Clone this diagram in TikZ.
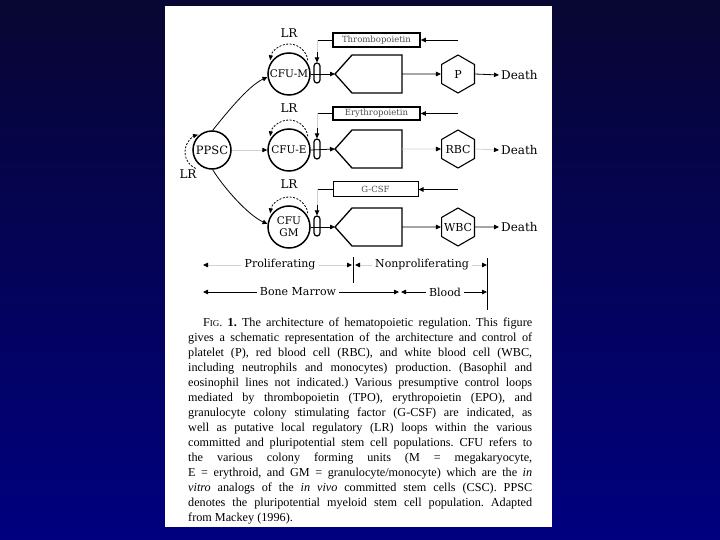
\documentclass[tikz,border=0pt]{standalone}
\usepackage{fontspec}
\setmainfont{Liberation Serif}
\newfontfamily\diagfont{DejaVu Serif}
\usetikzlibrary{shapes.geometric,arrows.meta,calc}
\definecolor{bgtop}{RGB}{8,6,50}
\definecolor{bgbot}{RGB}{0,0,128}
\frenchspacing
\begin{document}
\begin{tikzpicture}[x=1pt,y=-1pt,
  tip/.tip={Triangle[length=5pt,width=4.5pt]},
  flow/.style={line width=0.8pt,-tip},
  faintarr/.style={draw=black!18,line width=0.8pt,-{Triangle[length=5pt,width=4.5pt,color=black]}},
  faint/.style={draw=black!18,line width=0.8pt},
  cell/.style={draw,circle,line width=1.5pt,minimum size=42pt,inner sep=0pt,font=\diagfont\fontsize{10.5}{11}\selectfont},
  hexa/.style={draw,line width=1.1pt,regular polygon,regular polygon sides=6,shape border rotate=30,minimum size=38pt,inner sep=0pt,font=\diagfont\fontsize{11}{12}\selectfont},
  hbox/.style={draw,line width=1.6pt,minimum width=87pt,minimum height=14pt,inner sep=0pt,text=black!70,font=\diagfont\fontsize{8.5}{9}\selectfont},
  capsule/.style={draw,line width=1.2pt,minimum width=6pt,minimum height=20pt,inner sep=0pt,rounded corners=3pt},
  penta/.style={line width=1.3pt,line join=miter},
  lrloop/.style={dash pattern=on 2pt off 1.5pt,line width=0.8pt,-{Triangle[length=5pt,width=4pt]}},
  lbl/.style={font=\diagfont\fontsize{12}{13}\selectfont,inner sep=1pt},
  dim/.style={font=\diagfont\fontsize{11}{12}\selectfont,inner sep=3pt}
]
\useasboundingbox (0,0) rectangle (720,540);
\shade[top color=bgtop,bottom color=bgbot] (0,0) rectangle (720,540);
\fill[white] (165,6) rectangle (552,527);

% stem cells
\node[cell,minimum size=38pt,font=\diagfont\fontsize{11.5}{12}\selectfont] (ppsc) at (212,150) {PPSC};
\node[cell] (cfum) at (289,74) {CFU-M};
\node[cell] (cfue) at (289,150) {CFU-E};
\node[cell,align=center,font=\diagfont\fontsize{10.5}{12}\selectfont] (cfugm) at (289,227) {CFU\\GM};

% LR labels
\node[lbl] (lr1) at (289,33) {LR};
\node[lbl] (lr2) at (289,108) {LR};
\node[lbl] (lr3) at (289,184) {LR};
\node[lbl] (lr0) at (188,174) {LR};

% LR loops
\draw[lrloop] ($(cfum.center)+(0,-11)+(-8:19)$) arc[start angle=-8,end angle=-172,radius=19];
\draw[lrloop] ($(cfue.center)+(0,-11)+(-8:19)$) arc[start angle=-8,end angle=-172,radius=19];
\draw[lrloop] ($(cfugm.center)+(0,-11)+(-8:19)$) arc[start angle=-8,end angle=-172,radius=19];
\draw[lrloop] ($(ppsc.center)+(-9,2)+(114:18)$) arc[start angle=114,end angle=254,radius=18];

% PPSC to CFUs
\draw[flow] (ppsc.88) .. controls (225,115) and (248,86) .. (cfum.188);
\draw[faintarr] (ppsc.east) -- (cfue.west);
\draw[flow] (ppsc.272) .. controls (224,188) and (248,215) .. (cfugm.172);

% capsules
\node[capsule] (cap1) at (317,73) {};
\node[capsule] (cap2) at (317,149) {};
\node[capsule] (cap3) at (317,226) {};

% amplifier (pentagon) shapes
\coordinate (tip1) at (335,74);
\coordinate (tip2) at (335,149);
\coordinate (tip3) at (335,227);
\foreach \t in {1,2,3}{
  \draw[penta] (tip\t) -- ++(17,-19) -- ++(50,0) -- ++(0,38) -- ++(-50,0) -- cycle;
  \coordinate (pr\t) at ($(tip\t)+(67,0)$);
}

% circle -> pentagon
\draw[flow] (cfum.east) -- (tip1);
\draw[flow] (cfue.east) -- (tip2);
\draw[flow] (cfugm.east) -- (tip3);

% mature cells
\node[hexa] (hexp) at (458,74) {P};
\node[hexa] (hexr) at (458,149) {\makebox[0pt]{RBC}};
\node[hexa] (hexw) at (458,227) {\makebox[0pt]{WBC}};

\draw[flow] (pr1) -- (hexp.west);
\draw[faintarr] (pr2) -- (hexr.west);
\draw[flow] (pr3) -- (hexw.west);

\node[lbl,anchor=west,inner sep=2pt] (d1) at (499,75) {Death};
\node[lbl,anchor=west,inner sep=2pt] (d2) at (499,150) {Death};
\node[lbl,anchor=west,inner sep=2pt] (d3) at (499,227) {Death};
\draw[flow] (hexp.east) -- (d1.west);
\draw[faintarr] (hexr.east) -- (d2.west);
\draw[flow] (hexw.east) -- (d3.west);

% control boxes
\node[hbox] (thr) at (376.5,40) {Thrombopoietin};
\node[hbox,minimum height=13pt] (ery) at (376.5,113.5) {Erythropoietin};
\node[hbox,line width=1pt,minimum height=15pt,minimum width=85pt] (gcsf) at (375.5,189.5) {G-CSF};

\coordinate (in1) at (458,40);
\coordinate (in2) at (458,113.5);
\coordinate (in3) at (458,189.5);
\draw[flow] (in1) -- (thr.east);
\draw[flow] (in2) -- (ery.east);
\draw[flow] (in3) -- (gcsf.east);

\coordinate (c1) at (317,40);
\coordinate (c2) at (317,113.5);
\coordinate (c3) at (317,189.5);
\draw[line width=0.8pt] (thr.west) -- (c1);
\draw[line width=0.8pt] (ery.west) -- (c2);
\draw[line width=0.8pt] (gcsf.west) -- (c3);
\coordinate (s1) at ($(cap1.north)+(0,-10)$);
\coordinate (s2) at ($(cap2.north)+(0,-10)$);
\coordinate (s3) at ($(cap3.north)+(0,-10)$);
\draw[faint] (c1) -- (s1);
\draw[faint] (c2) -- (s2);
\draw[faint] (c3) -- (s3);
\draw[flow] (s1) -- (cap1.north);
\draw[flow] (s2) -- (cap2.north);
\draw[flow] (s3) -- (cap3.north);

% bottom scales
\node[dim] (prol) at (280,265) {Proliferating};
\node[dim] (nonp) at (422,265) {Nonproliferating};
\node[dim] (bone) at (298,292) {Bone Marrow};
\node[dim] (blood) at (445,292) {Blood};
\coordinate (a1) at (203,265);
\coordinate (a2) at (352,265);
\coordinate (a3) at (355,265);
\coordinate (a4) at (487,265);
\coordinate (b1) at (203,292);
\coordinate (b2) at (399,292);
\coordinate (b3) at (401,292);
\coordinate (b4) at (487,292);
\draw[faintarr] (prol.west) -- (a1);
\draw[faintarr] (prol.east) -- (a2);
\draw[faintarr] (nonp.west) -- (a3);
\draw[faintarr] (nonp.east) -- (a4);
\draw[flow] (bone.west) -- (b1);
\draw[flow] (bone.east) -- (b2);
\draw[flow] (blood.west) -- (b3);
\draw[flow] (blood.east) -- (b4);
\draw[line width=0.8pt] (353,257) -- (353,283);
\draw[line width=0.8pt] (487,258) -- (487,310);

% caption
\node[anchor=north west,text width=344pt,inner sep=0pt,align=justify,font=\fontsize{12.2}{15}\selectfont] (caption) at (188,317.5) {\hspace*{15pt}F{\fontsize{9}{9}\selectfont IG}. \textbf{1.} The architecture of hematopoietic regulation. This figure\linebreak
gives a schematic representation of the architecture and control of\linebreak
platelet (P), red blood cell (RBC), and white blood cell (WBC,\linebreak
including neutrophils and monocytes) production. (Basophil and\linebreak
eosinophil lines not indicated.) Various presumptive control loops\linebreak
mediated by thrombopoietin (TPO), erythropoietin (EPO), and\linebreak
granulocyte colony stimulating factor (G-CSF) are indicated, as\linebreak
well as putative local regulatory (LR) loops within the various\linebreak
committed and pluripotential stem cell populations. CFU refers to\linebreak
the various colony forming units (M = megakaryocyte,\linebreak
E = erythroid, and GM = granulocyte/monocyte) which are the \textit{in}\linebreak
\textit{vitro} analogs of the \textit{in vivo} committed stem cells (CSC). PPSC\linebreak
denotes the pluripotential myeloid stem cell population. Adapted\linebreak
from Mackey (1996).};
\end{tikzpicture}
\end{document}
